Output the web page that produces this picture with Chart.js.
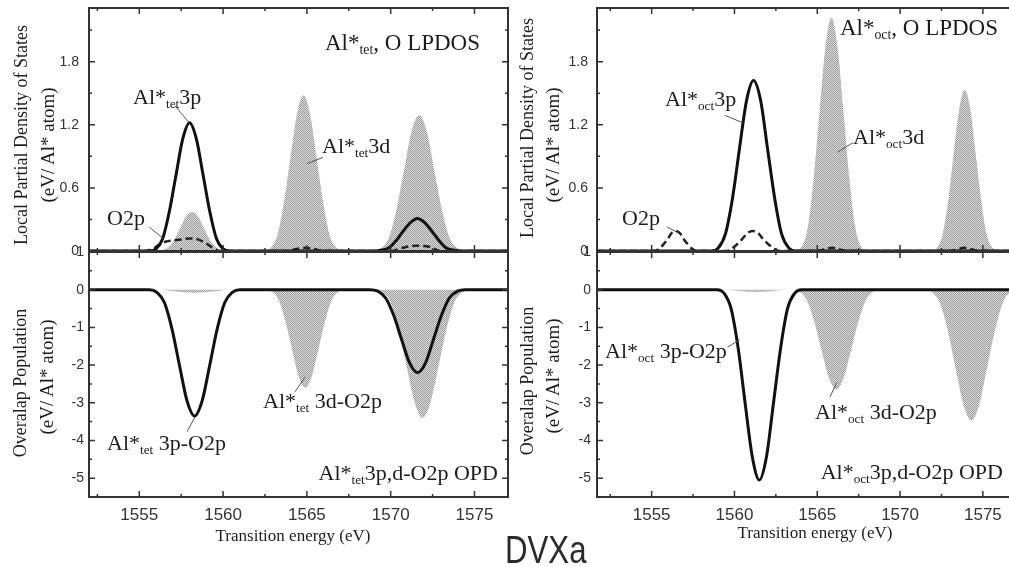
<!DOCTYPE html>
<html>
<head>
<meta charset="utf-8">
<script src="https://cdn.jsdelivr.net/npm/chart.js@4.4.1/dist/chart.umd.min.js"></script>
<style>
body{margin:0;width:1009px;height:567px;overflow:hidden;background:#fff;position:relative;font-family:'Liberation Serif','Times New Roman',serif;color:#1c1c1c}
canvas{position:absolute;left:0;top:0}
.t{position:absolute;white-space:nowrap;line-height:1;font-size:22px}
.t sub{font-size:0.6em;vertical-align:-0.3em;line-height:0}
.v{position:absolute;white-space:nowrap;line-height:1;font-size:18px;transform:translate(-50%,-50%) rotate(-90deg)}
.c{position:absolute;white-space:nowrap;line-height:1;font-size:17px;transform:translate(-50%,-50%)}
</style>
</head>
<body>
<canvas id="tl" width="1016" height="567"></canvas>
<canvas id="bl" width="1016" height="567"></canvas>
<canvas id="tr" width="1016" height="567"></canvas>
<canvas id="br" width="1016" height="567"></canvas>

<div class="t" style="right:529px;top:31px;font-size:23px">Al*<sub>tet</sub>, O LPDOS</div>
<div class="t" style="left:133px;top:86px">Al*<sub>tet</sub>3p</div>
<div class="t" style="left:107px;top:207px">O2p</div>
<div class="t" style="left:322px;top:135px">Al*<sub>tet</sub>3d</div>
<div class="t" style="left:107px;top:432px">Al*<sub>tet</sub> 3p-O2p</div>
<div class="t" style="left:263px;top:390px">Al*<sub>tet</sub> 3d-O2p</div>
<div class="t" style="right:511px;top:462px">Al*<sub>tet</sub>3p,d-O2p OPD</div>

<div class="t" style="right:11px;top:16px;font-size:23px">Al*<sub>oct</sub>, O LPDOS</div>
<div class="t" style="left:665px;top:88px">Al*<sub>oct</sub>3p</div>
<div class="t" style="left:622px;top:207px">O2p</div>
<div class="t" style="left:853px;top:126px">Al*<sub>oct</sub>3d</div>
<div class="t" style="left:605px;top:340px">Al*<sub>oct</sub> 3p-O2p</div>
<div class="t" style="left:815px;top:401px">Al*<sub>oct</sub> 3d-O2p</div>
<div class="t" style="right:6px;top:461px">Al*<sub>oct</sub>3p,d-O2p OPD</div>

<div class="v" style="left:21px;top:135px">Local Partial Density of States</div>
<div class="v" style="left:47px;top:145px;font-size:19px">(eV/ Al* atom)</div>
<div class="v" style="left:20px;top:383px">Overalap Population</div>
<div class="v" style="left:46px;top:377px;font-size:19px">(eV/ Al* atom)</div>
<div class="v" style="left:527px;top:128px">Local Partial Density of States</div>
<div class="v" style="left:552px;top:145px;font-size:19px">(eV/ Al* atom)</div>
<div class="v" style="left:527px;top:381px">Overalap Population</div>
<div class="v" style="left:552px;top:376px;font-size:19px">(eV/ Al* atom)</div>

<div class="c" style="left:293px;top:535px">Transition energy (eV)</div>
<div class="c" style="left:815px;top:532px">Transition energy (eV)</div>
<div style="position:absolute;left:505px;top:530px;line-height:1;font-size:39px;font-family:'Liberation Sans',Arial,sans-serif;color:#2a2a2a;transform:scaleX(0.8);transform-origin:0 0">DVXa</div>

<script>
// tick labels
const energyTicks = [1555, 1560, 1565, 1570, 1575];
const lpdosTicks = [0, 0.6, 1.2, 1.8];
const opdTicks = [1, 0, -1, -2, -3, -4, -5];

// Al*tet, O LPDOS
const tet3pX = [1552, 1555.6, 1556.0, 1556.4, 1556.8, 1557.2, 1557.6, 1558.0, 1558.4, 1558.8, 1559.2, 1559.6, 1560.0, 1560.4,
  1569.05, 1569.48, 1569.9, 1570.33, 1570.75, 1571.18, 1571.6, 1572.03, 1572.45, 1572.88, 1573.3, 1573.73, 1574.15, 1577];
const tet3pY = [0, 0, 0.02, 0.12, 0.38, 0.73, 1.07, 1.22, 1.07, 0.73, 0.38, 0.12, 0.02, 0,
  0, 0.01, 0.03, 0.10, 0.19, 0.27, 0.31, 0.27, 0.19, 0.10, 0.03, 0.01, 0, 0];
const tetO2pX = [1552, 1555.4, 1555.8, 1556.2, 1556.6, 1557.0, 1557.5, 1558.0, 1558.5, 1559.0, 1559.4, 1559.8,
  1563.8, 1564.4, 1564.9, 1565.4, 1566.0, 1570.0, 1570.7, 1571.5, 1572.3, 1573.0, 1577];
const tetO2pY = [0, 0, 0.02, 0.06, 0.09, 0.10, 0.11, 0.12, 0.11, 0.07, 0.03, 0,
  0, 0.02, 0.03, 0.02, 0, 0, 0.03, 0.05, 0.04, 0, 0];
const tet3dX = [1556.05, 1556.4, 1556.75, 1557.1, 1557.45, 1557.8, 1558.15, 1558.5, 1558.85, 1559.2, 1559.55, 1559.9, 1560.25,
  1562.46, 1562.85, 1563.24, 1563.63, 1564.02, 1564.41, 1564.8, 1565.19, 1565.58, 1565.97, 1566.36, 1566.75, 1567.14,
  1569.0, 1569.45, 1569.9, 1570.35, 1570.8, 1571.25, 1571.7, 1572.15, 1572.6, 1573.05, 1573.5, 1573.95, 1574.4];
const tet3dY = [0, 0.01, 0.04, 0.11, 0.22, 0.33, 0.37, 0.33, 0.22, 0.11, 0.04, 0.01, 0,
  0, 0.03, 0.15, 0.46, 0.89, 1.30, 1.48, 1.30, 0.89, 0.46, 0.15, 0.03, 0,
  0, 0.03, 0.13, 0.40, 0.77, 1.14, 1.29, 1.14, 0.77, 0.40, 0.13, 0.03, 0];

// Al*tet 3p,d-O2p OPD
const tetOpd3pX = [1552, 1555.6, 1556.05, 1556.5, 1556.95, 1557.4, 1557.85, 1558.3, 1558.75, 1559.2, 1559.65, 1560.1, 1560.55, 1561.0,
  1568.75, 1569.23, 1569.7, 1570.18, 1570.65, 1571.13, 1571.6, 1572.08, 1572.55, 1573.03, 1573.5, 1573.98, 1574.45, 1577];
const tetOpd3pY = [0, 0, -0.07, -0.34, -1.04, -2.01, -2.95, -3.35, -2.95, -2.01, -1.04, -0.34, -0.07, 0,
  0, -0.04, -0.22, -0.68, -1.32, -1.94, -2.2, -1.94, -1.32, -0.68, -0.22, -0.04, 0, 0];
const tetOpd3dX = [1556.3, 1557.2, 1558.3, 1559.4, 1560.3,
  1562.5, 1562.9, 1563.3, 1563.7, 1564.1, 1564.5, 1564.9, 1565.3, 1565.7, 1566.1, 1566.5, 1566.9, 1567.3,
  1569.05, 1569.53, 1570.0, 1570.48, 1570.95, 1571.43, 1571.9, 1572.38, 1572.85, 1573.33, 1573.8, 1574.28, 1574.75];
const tetOpd3dY = [0, -0.05, -0.08, -0.05, 0,
  0, -0.05, -0.26, -0.81, -1.56, -2.29, -2.6, -2.29, -1.56, -0.81, -0.26, -0.05, 0,
  0, -0.07, -0.34, -1.05, -2.04, -2.99, -3.4, -2.99, -2.04, -1.05, -0.34, -0.07, 0];

// Al*oct, O LPDOS
const oct3pX = [1551.7, 1558.6, 1559.03, 1559.45, 1559.88, 1560.3, 1560.73, 1561.15, 1561.58, 1562.0, 1562.43, 1562.85, 1563.28, 1563.7, 1577];
const oct3pY = [0, 0, 0.03, 0.16, 0.50, 0.97, 1.43, 1.62, 1.43, 0.97, 0.50, 0.16, 0.03, 0, 0];
const octO2pX = [1551.7, 1555.2, 1555.45, 1555.7, 1555.95, 1556.2, 1556.45, 1556.7, 1556.95, 1557.2, 1557.45, 1557.75,
  1559.48, 1559.8, 1560.13, 1560.45, 1560.78, 1561.1, 1561.43, 1561.75, 1562.08, 1562.4, 1562.73,
  1565.0, 1565.9, 1566.8, 1573.0, 1573.9, 1574.8, 1577];
const octO2pY = [0, 0, 0.02, 0.06, 0.11, 0.17, 0.19, 0.17, 0.11, 0.06, 0.02, 0,
  0, 0.02, 0.06, 0.11, 0.17, 0.19, 0.17, 0.11, 0.06, 0.02, 0,
  0, 0.03, 0, 0, 0.03, 0, 0];
const oct3dX = [1563.7, 1564.06, 1564.42, 1564.78, 1565.14, 1565.5, 1565.86, 1566.22, 1566.58, 1566.94, 1567.3, 1567.66, 1568.02,
  1571.89, 1572.23, 1572.56, 1572.9, 1573.23, 1573.57, 1573.9, 1574.24, 1574.57, 1574.91, 1575.24, 1575.58, 1575.91];
const oct3dY = [0, 0.04, 0.22, 0.69, 1.33, 1.95, 2.22, 1.95, 1.33, 0.69, 0.22, 0.04, 0,
  0, 0.03, 0.15, 0.47, 0.92, 1.35, 1.53, 1.35, 0.92, 0.47, 0.15, 0.03, 0];

// Al*oct 3p,d-O2p OPD
const octOpd3pX = [1551.7, 1558.95, 1559.38, 1559.8, 1560.23, 1560.65, 1561.08, 1561.5, 1561.93, 1562.35, 1562.78, 1563.2, 1563.63, 1564.05, 1577];
const octOpd3pY = [0, 0, -0.1, -0.51, -1.57, -3.03, -4.44, -5.05, -4.44, -3.03, -1.57, -0.51, -0.1, 0, 0];
const octOpd3dX = [1559.5, 1560.4, 1561.3, 1562.2, 1563.1,
  1563.45, 1563.9, 1564.35, 1564.8, 1565.25, 1565.7, 1566.15, 1566.6, 1567.05, 1567.5, 1567.95, 1568.4, 1568.85,
  1571.45, 1571.93, 1572.4, 1572.88, 1573.35, 1573.83, 1574.3, 1574.78, 1575.25, 1575.73, 1576.2, 1576.68, 1577.15];
const octOpd3dY = [0, -0.04, -0.06, -0.04, 0,
  0, -0.05, -0.27, -0.82, -1.59, -2.33, -2.65, -2.33, -1.59, -0.82, -0.27, -0.05, 0,
  0, -0.07, -0.35, -1.08, -2.08, -3.05, -3.47, -3.05, -2.08, -1.08, -0.35, -0.07, 0];

function pts(xs, ys) { return xs.map((x, i) => ({x: x, y: ys[i]})); }

// halftone grey like the printed figure
function dotFill() {
  const c = document.createElement('canvas');
  c.width = 2; c.height = 2;
  const g = c.getContext('2d');
  g.fillStyle = '#dcdcdc'; g.fillRect(0, 0, 2, 2);
  g.fillStyle = '#9c9c9c'; g.fillRect(0, 0, 1, 1); g.fillRect(1, 1, 1, 1);
  return g.createPattern(c, 'repeat');
}
const grey = dotFill();

function solid(d) { return {data: d, borderColor: '#111', borderWidth: 3, pointRadius: 0, fill: false, cubicInterpolationMode: 'monotone'}; }
function dashed(d) { return {data: d, borderColor: '#222', borderWidth: 2.5, borderDash: [7, 4], pointRadius: 0, fill: false, cubicInterpolationMode: 'monotone'}; }
function shaded(d) { return {data: d, borderWidth: 0, borderColor: 'rgba(0,0,0,0)', backgroundColor: grey, pointRadius: 0, fill: 'origin', cubicInterpolationMode: 'monotone'}; }

// frame with inward ticks on all sides, plus label leader lines
const framePlugin = {
  id: 'frame',
  afterDatasetsDraw(chart, args, opts) {
    const ctx = chart.ctx, a = chart.chartArea, x = chart.scales.x, y = chart.scales.y;
    ctx.save();
    ctx.strokeStyle = '#333';
    ctx.lineWidth = 2;
    ctx.strokeRect(a.left, a.top, a.right - a.left, a.bottom - a.top);
    ctx.lineWidth = 1.5;
    ctx.beginPath();
    for (let v = 1552.5; v <= 1577; v += 2.5) {
      const p = x.getPixelForValue(v);
      if (p <= a.left + 1 || p >= a.right - 1) continue;
      const len = v % 5 === 0 ? 6 : 3;
      ctx.moveTo(p, a.top); ctx.lineTo(p, a.top + len);
      ctx.moveTo(p, a.bottom); ctx.lineTo(p, a.bottom - len);
    }
    opts.yMajor.forEach(v => {
      const p = y.getPixelForValue(v);
      ctx.moveTo(a.left, p); ctx.lineTo(a.left + 6, p);
      ctx.moveTo(a.right, p); ctx.lineTo(a.right - 6, p);
    });
    opts.yMinor.forEach(v => {
      const p = y.getPixelForValue(v);
      ctx.moveTo(a.left, p); ctx.lineTo(a.left + 3, p);
      ctx.moveTo(a.right, p); ctx.lineTo(a.right - 3, p);
    });
    ctx.stroke();
    ctx.strokeStyle = '#555';
    ctx.lineWidth = 1;
    ctx.beginPath();
    opts.leaders.forEach(l => {
      ctx.moveTo(x.getPixelForValue(l[0]), y.getPixelForValue(l[1]));
      ctx.lineTo(x.getPixelForValue(l[2]), y.getPixelForValue(l[3]));
    });
    ctx.stroke();
    ctx.restore();
  }
};

function panel(id, area, xMin, yMin, yMax, yTicks, yMajor, yMinor, showX, yPad, sets, leaders) {
  new Chart(document.getElementById(id), {
    type: 'line',
    data: {datasets: sets},
    plugins: [framePlugin],
    options: {
      responsive: false,
      animation: false,
      devicePixelRatio: 1,
      layout: {padding: {left: area[0] - 40, top: area[1], right: 1016 - area[2], bottom: 567 - area[3] - (showX ? 30 : 0)}},
      plugins: {legend: {display: false}, tooltip: {enabled: false}, frame: {yMajor: yMajor, yMinor: yMinor, leaders: leaders}},
      scales: {
        x: {
          type: 'linear', min: xMin, max: 1577, display: showX,
          grid: {display: false, drawTicks: false}, border: {display: false},
          afterBuildTicks: s => { s.ticks = energyTicks.map(v => ({value: v})); },
          afterFit: s => { s.height = showX ? 30 : 0; s.paddingLeft = 0; s.paddingRight = 0; },
          ticks: {padding: 8, color: '#333', font: {family: "'Liberation Sans', Arial, sans-serif", size: 17}, callback: v => String(v)}
        },
        y: {
          type: 'linear', min: yMin, max: yMax,
          grid: {display: false, drawTicks: false}, border: {display: false},
          afterBuildTicks: s => { s.ticks = yTicks.map(v => ({value: v})); },
          afterFit: s => { s.width = 40; s.paddingTop = 0; s.paddingBottom = 0; },
          ticks: {padding: yPad, color: '#333', font: {family: "'Liberation Sans', Arial, sans-serif", size: 14}, callback: v => String(v)}
        }
      }
    }
  });
}

const lpdosMinor = [0.3, 0.9, 1.5, 2.1];
const opdMinor = [0.5, -0.5, -1.5, -2.5, -3.5, -4.5];

panel('tl', [89, 8, 508, 251], 1552, 0, 2.31, lpdosTicks, lpdosTicks, lpdosMinor, false, 10,
  [solid(pts(tet3pX, tet3pY)), dashed(pts(tetO2pX, tetO2pY)), shaded(pts(tet3dX, tet3dY))],
  [[1557.13, 1.38, 1557.97, 1.22], [1555.58, 0.23, 1556.42, 0.12], [1565.96, 0.89, 1565.0, 0.83]]);

panel('bl', [89, 252, 508, 497], 1552, -5.5, 1, opdTicks, opdTicks, opdMinor, true, 5,
  [solid(pts(tetOpd3pX, tetOpd3pY)), shaded(pts(tetOpd3dX, tetOpd3dY))],
  [[1557.85, -3.77, 1558.32, -3.38], [1564.29, -2.71, 1564.89, -2.32]]);

panel('tr', [597, 8, 1016, 251], 1551.7, 0, 2.31, lpdosTicks, lpdosTicks, lpdosMinor, false, 9,
  [solid(pts(oct3pX, oct3pY)), dashed(pts(octO2pX, octO2pY)), shaded(pts(oct3dX, oct3dY))],
  [[1559.41, 1.29, 1560.5, 1.22], [1555.91, 0.23, 1556.51, 0.18], [1567.15, 1.03, 1566.24, 0.94]]);

panel('br', [597, 252, 1016, 497], 1551.7, -5.5, 1, opdTicks, opdTicks, opdMinor, true, 6,
  [solid(pts(octOpd3pX, octOpd3pY)), shaded(pts(octOpd3dX, octOpd3dY))],
  [[1559.59, -1.52, 1560.32, -1.33], [1565.76, -2.85, 1566.18, -2.47]]);
</script>
</body>
</html>
